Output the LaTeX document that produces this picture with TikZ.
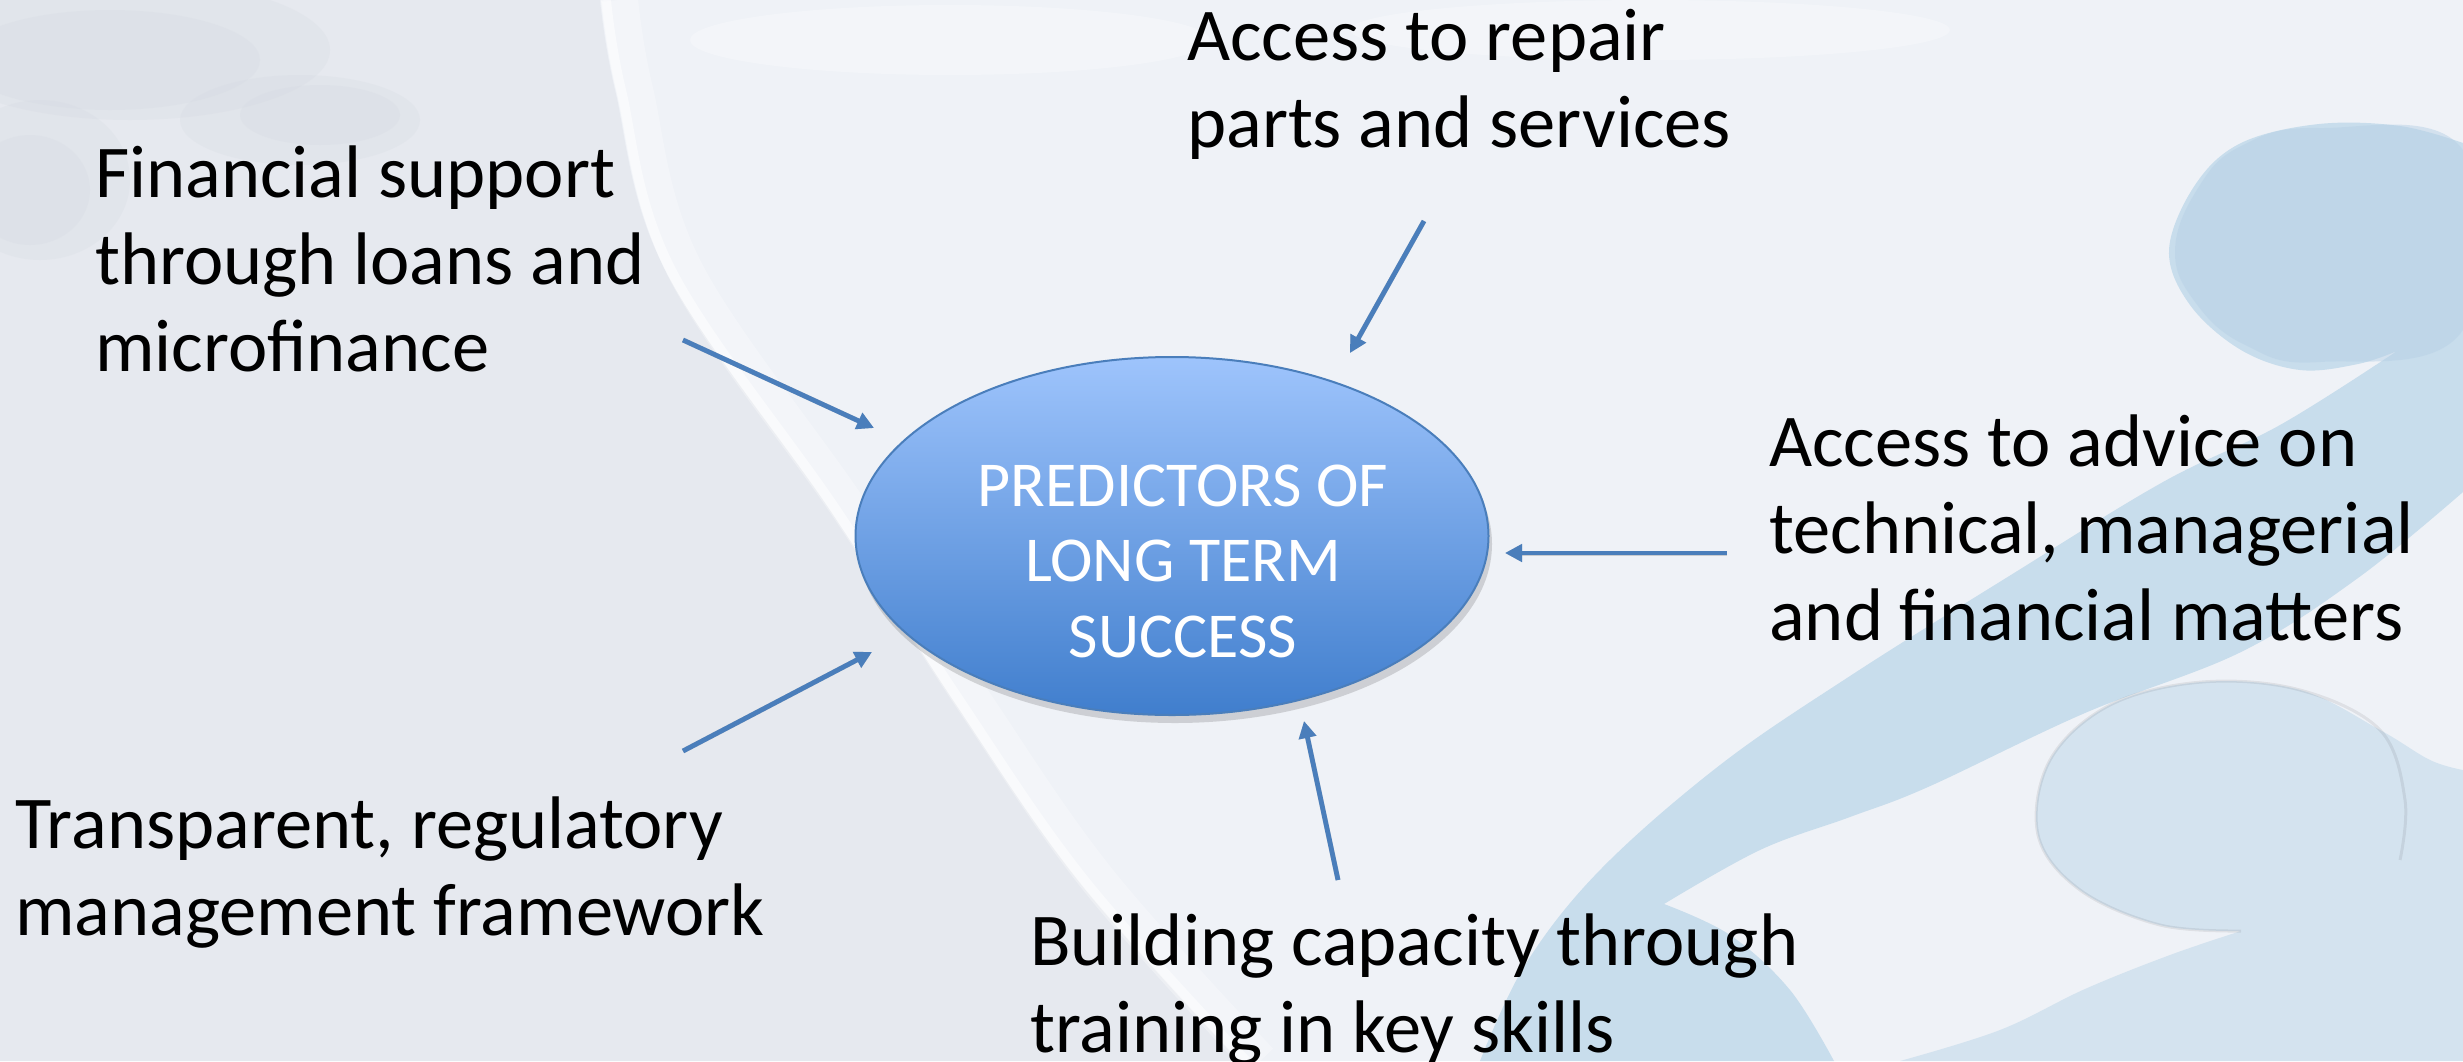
\documentclass[tikz,border=0pt]{standalone}
\usepackage{fontspec}
\setmainfont{Carlito}
\usetikzlibrary{arrows.meta,shapes.geometric}
\definecolor{bgc}{RGB}{239,242,247}
\definecolor{leftc}{RGB}{230,233,239}
\definecolor{cloudc}{RGB}{210,215,223}
\definecolor{swirlA}{RGB}{184,209,230}
\definecolor{swirlB}{RGB}{200,221,236}
\definecolor{swirlC}{RGB}{212,227,239}
\definecolor{arrowc}{RGB}{74,126,187}
\definecolor{elltop}{RGB}{158,196,252}
\definecolor{ellbot}{RGB}{64,126,205}
\tikzset{
  lbl/.style={font=\fontsize{74.5}{87}\selectfont, align=left, inner sep=0pt, anchor=base west, text=black},
  ctr/.style={font=\fontsize{64}{75.5}\selectfont, align=center, inner sep=0pt, anchor=base, text=white},
  arr/.style={draw=arrowc, line width=4.8pt, -{Triangle[length=17pt,width=17pt]}},
  arrshadow/.style={draw=black, opacity=0.16, line width=5pt, -{Triangle[length=17pt,width=17pt]}, shift={(2pt,-4pt)}},
  cloud/.style={fill=cloudc, opacity=0.22},
}
\begin{document}
\begin{tikzpicture}[x=1pt,y=-1pt]
\useasboundingbox (0,0) rectangle (2463,1061);
% background
\fill[bgc] (0,0) rectangle (2463,1061);
\fill[leftc] (0,0) -- plot[smooth, tension=0.6] coordinates {(600,0) (615,90) (665,270) (830,510) (953,700) (1078,880) (1240,1061)} -- (0,1061) -- cycle;
\draw[white, opacity=0.3, line width=36pt] plot[smooth, tension=0.6] coordinates {(620,0) (635,90) (685,270) (850,510) (973,700) (1098,880) (1260,1061)};
\draw[white, opacity=0.5, line width=10pt] plot[smooth, tension=0.6] coordinates {(606,0) (621,90) (671,270) (836,510) (959,700) (1084,880) (1246,1061)};
% soft clouds
\fill[cloud] (130,50) ellipse (200 and 70);
\fill[cloud] (110,60) ellipse (150 and 50);
\fill[cloud] (40,180) ellipse (90 and 80);
\fill[cloud] (30,190) ellipse (60 and 55);
\fill[cloud] (300,120) ellipse (120 and 45);
\fill[cloud] (320,115) ellipse (80 and 30);
\fill[white, opacity=0.25] (950,40) ellipse (260 and 35);
\fill[white, opacity=0.25] (1650,30) ellipse (300 and 30);
% swirl: upper comma
\fill[swirlB] plot[smooth, tension=0.6] coordinates {(2463,143) (2400,126) (2319,124) (2241,143) (2195,185) (2169,250) (2190,305) (2241,350) (2300,370) (2358,364) (2397,351)}
  -- plot[smooth, tension=0.6] coordinates {(2397,351) (2280,425) (2163,482) (2006,578) (1850,676) (1720,765) (1600,870) (1525,965) (1480,1061)}
  -- (1834,1061)
  -- plot[smooth, tension=0.6] coordinates {(1834,1061) (1790,990) (1730,935) (1664,904)}
  -- plot[smooth, tension=0.6] coordinates {(1664,904) (1760,850) (1850,817) (1928,787) (2085,713) (2241,652) (2358,578) (2463,492)}
  -- cycle;
\fill[swirlA, opacity=0.5] plot[smooth cycle, tension=0.7] coordinates {(2463,150) (2319,128) (2241,146) (2198,188) (2175,250) (2195,302) (2245,345) (2320,362) (2463,330)};
% swirl: lower comma
\fill[swirlC] plot[smooth, tension=0.6] coordinates {(2241,931) (2160,925) (2080,890) (2038,835) (2050,760) (2110,705) (2202,682) (2300,690) (2380,730) (2430,760) (2463,770)}
  -- (2463,1061) -- (1900,1061)
  -- plot[smooth, tension=0.6] coordinates {(1900,1061) (2000,1030) (2085,989) (2170,955) (2241,931)}
  -- cycle;
\draw[black, opacity=0.07, line width=3pt] plot[smooth, tension=0.6] coordinates {(2241,931) (2160,925) (2080,890) (2038,835) (2050,760) (2110,705) (2202,682) (2300,690) (2380,730) (2405,800) (2400,860)};

% central ellipse
\fill[black, opacity=0.14] (1175,544) ellipse (317 and 179);
\node[ellipse, minimum width=633pt, minimum height=358pt, inner sep=0pt, draw=arrowc, line width=2pt, top color=elltop, bottom color=ellbot] (ell) at (1172,536) {};
\node[ctr] (ptxt) at (1183,657) {PREDICTORS OF\\LONG TERM\\SUCCESS};

% labels (anchored at the baseline of their last line)
\node[lbl] (fin) at (95,371) {Financial support\\through loans and\\microfinance};
\node[lbl] (rep) at (1187,147) {Access to repair\\parts and services};
\node[lbl] (adv) at (1769,640) {Access to advice on\\technical, managerial\\and financial matters};
\node[lbl] (tra) at (15,935) {Transparent, regulatory\\management framework};
\node[lbl] (bui) at (1030,1052) {Building capacity through\\training in key skills};

% arrow end points
\coordinate (fS) at (683,340);  \coordinate (fT) at (874,428);
\coordinate (rS) at (1424,221); \coordinate (rT) at (1350,353);
\coordinate (aS) at (1727,553); \coordinate (aT) at (1505,553);
\coordinate (bS) at (1338,880); \coordinate (bT) at (1304,721);
\coordinate (tS) at (683,751);  \coordinate (tT) at (872,652);

\foreach \s/\t in {fS/fT, rS/rT, aS/aT, bS/bT, tS/tT}{
  \draw[arrshadow] (\s) -- (\t);
  \draw[arr] (\s) -- (\t);
}
\end{tikzpicture}
\end{document}
